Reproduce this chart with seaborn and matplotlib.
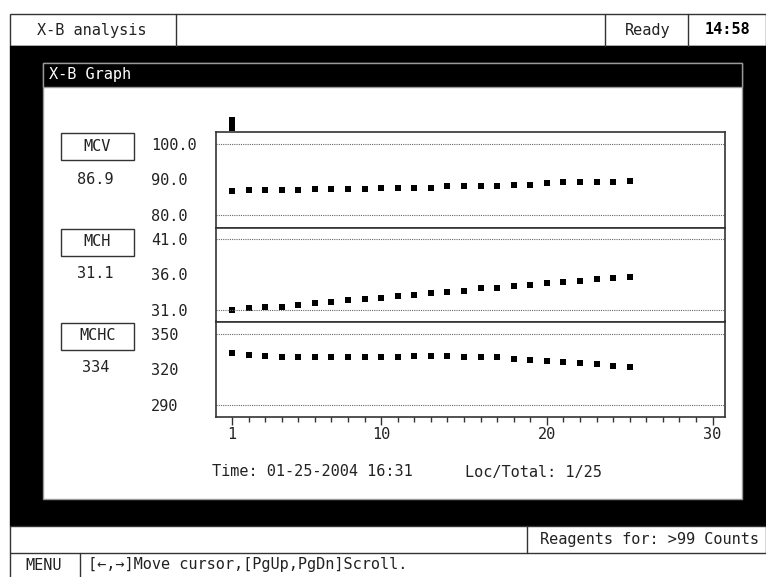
"""
X-B analysis screen: MCV / MCH / MCHC moving-average trend over 25 runs.
"""

import matplotlib
matplotlib.use("Agg")
import matplotlib.pyplot as plt
from matplotlib.patches import Rectangle
from matplotlib.ticker import FixedLocator
import seaborn as sns

# ── Data ───────────────────────────────────────────────────────────────────────

loc = list(range(1, 26))
mcv = [86.7, 87.1, 87.1, 87.1, 87.1, 87.4, 87.4, 87.4, 87.4, 87.6, 87.6, 87.6, 87.6,
       88.0, 88.0, 88.0, 88.0, 88.3, 88.3, 89.0, 89.2, 89.2, 89.4, 89.4, 89.7]
mch = [31.0, 31.2, 31.35, 31.45, 31.6, 31.95, 32.15, 32.3, 32.5, 32.6, 32.95, 33.1, 33.35,
       33.45, 33.65, 34.0, 34.1, 34.3, 34.5, 34.7, 34.95, 35.1, 35.3, 35.45, 35.6]
mchc = [334.2, 332.2, 331.3, 330.2, 330.2, 330.2, 330.2, 330.2, 330.2, 330.2, 330.2, 331.3,
        331.3, 331.3, 330.2, 330.2, 330.2, 329.1, 327.9, 327.1, 325.9, 325.1, 324.2, 323.1, 322.0]

param_names = ["MCV", "MCH", "MCHC"]
current_values = ["86.9", "31.1", "334"]
ytick_values = [[80, 90, 100], [31, 36, 41], [290, 320, 350]]
ytick_labels = [["80.0", "90.0", "100.0"], ["31.0", "36.0", "41.0"], ["290", "320", "350"]]
xtick_major = [1, 10, 20, 30]
xtick_minor = list(range(1, 31))
cursor_loc = 1
time_stamp = "01-25-2004 16:31"
loc_total = "1/25"

# ── Layout (pixels) ────────────────────────────────────────────────────────────

W, H = 766, 577
AX_LEFT, AX_RIGHT = 215.5, 725
AX_TOPS = [132, 227.5, 321.5]
AX_BOTS = [227.5, 321.5, 417]
YLIMS = [(76.3, 103.55), (29.35, 42.55), (279.8, 360.4)]
FONT = ["DejaVu Sans Mono", "DejaVu Sans"]
FS = 11
INK = "#222222"

sns.set_style("white")
plt.rcParams["font.family"] = FONT

fig = plt.figure(figsize=(W / 100, H / 100), dpi=100)

# background "screen" axes in pixel coordinates
bg = fig.add_axes([0, 0, 1, 1])
bg.set_xlim(0, W)
bg.set_ylim(H, 0)
bg.axis("off")
bg.set_zorder(-1)


def rect(x0, y0, x1, y1, fc, ec="#333333", lw=1.0):
    bg.add_patch(Rectangle((x0, y0), x1 - x0, y1 - y0, fc=fc, ec=ec, lw=lw))


def label(x, y, s, ha="center", color=INK, **kw):
    bg.text(x, y, s, ha=ha, va="center", color=color, fontsize=FS, **kw)


# top status bar
rect(10, 14, 766, 46, "white")
for xd in (176, 605, 688):
    bg.plot([xd, xd], [14, 46], color="#333333", lw=1)
label(92, 30, "X-B analysis")
label(648, 30, "Ready")
label(727, 30, "14:58", fontweight="bold", color="black")

# black screen area + graph window
rect(10, 46, 766, 526, "black", ec="black")
rect(43, 63, 742, 499, "white", ec="#999999")
rect(43, 63, 742, 87, "black", ec="#999999")
label(49, 75, "X-B Graph", ha="left", color="white")

# parameter boxes + current values
value_y = [179, 273.5, 368]
for name, val, top, vy in zip(param_names, current_values, AX_TOPS, value_y):
    rect(61, top + 1, 134, top + 28, "white")
    label(97.5, top + 14.5, name)
    label(95.5, vy, val)

# info line
label(212, 472, f"Time: {time_stamp}", ha="left")
label(465, 472, f"Loc/Total: {loc_total}", ha="left")

# bottom bars
rect(10, 526, 766, 553, "white")
bg.plot([527, 527], [526, 553], color="#333333", lw=1)
label(540, 539.5, "Reagents for: >99 Counts", ha="left")
bg.plot([10, 10], [553, 577], color="#333333", lw=1)
bg.plot([80, 80], [553, 577], color="#333333", lw=1)
label(44, 565, "MENU")
label(88, 565, "[←,→]Move cursor,[PgUp,PgDn]Scroll.", ha="left")

# ── Trend panels ───────────────────────────────────────────────────────────────

series = [mcv, mch, mchc]
axes = []
for i, (vals, top, bot) in enumerate(zip(series, AX_TOPS, AX_BOTS)):
    ax = fig.add_axes([AX_LEFT / W, 1 - bot / H, (AX_RIGHT - AX_LEFT) / W, (bot - top) / H])
    ax.set_facecolor("white")
    sns.scatterplot(x=loc, y=vals, marker="s", s=22, color="black", linewidth=0, ax=ax)

    lo, mid, hi = ytick_values[i]
    for yy in (lo, hi):
        ax.axhline(yy, ls=(0, (1, 1)), lw=0.8, color="#666666", zorder=1)

    ax.set_xlim(0, 30.75)
    ax.set_ylim(*YLIMS[i])

    ax.yaxis.set_major_locator(FixedLocator(ytick_values[i]))
    ax.set_yticklabels(ytick_labels[i])
    ax.yaxis.set_minor_locator(FixedLocator([mid]))
    ax.tick_params(axis="y", which="major", left=True, length=0,
                   pad=(AX_LEFT - 151) * 0.72, labelsize=FS, labelcolor=INK)
    ax.tick_params(axis="y", which="minor", left=True, direction="in", length=3.6,
                   width=1, color="#333333")
    for t in ax.get_yticklabels():
        t.set_ha("left")

    for sp in ax.spines.values():
        sp.set_color("#333333")
        sp.set_linewidth(1.2)

    if i < 2:
        ax.tick_params(axis="x", which="both", bottom=False, labelbottom=False)
    else:
        ax.xaxis.set_major_locator(FixedLocator(xtick_major))
        ax.xaxis.set_minor_locator(FixedLocator(xtick_minor))
        ax.tick_params(axis="x", which="major", bottom=True, direction="out",
                       length=6, width=1, color="#333333", labelsize=FS,
                       labelcolor=INK, pad=1)
        ax.tick_params(axis="x", which="minor", bottom=True, direction="out",
                       length=3.6, width=1, color="#333333")
    ax.set_xlabel("")
    ax.set_ylabel("")
    axes.append(ax)

# cursor marker above the top panel
axes[0].plot([cursor_loc], [1.08], marker="|", ms=9.4, mew=4.3, color="black",
             transform=axes[0].get_xaxis_transform(), clip_on=False)

fig.savefig("out.png", dpi=100)
